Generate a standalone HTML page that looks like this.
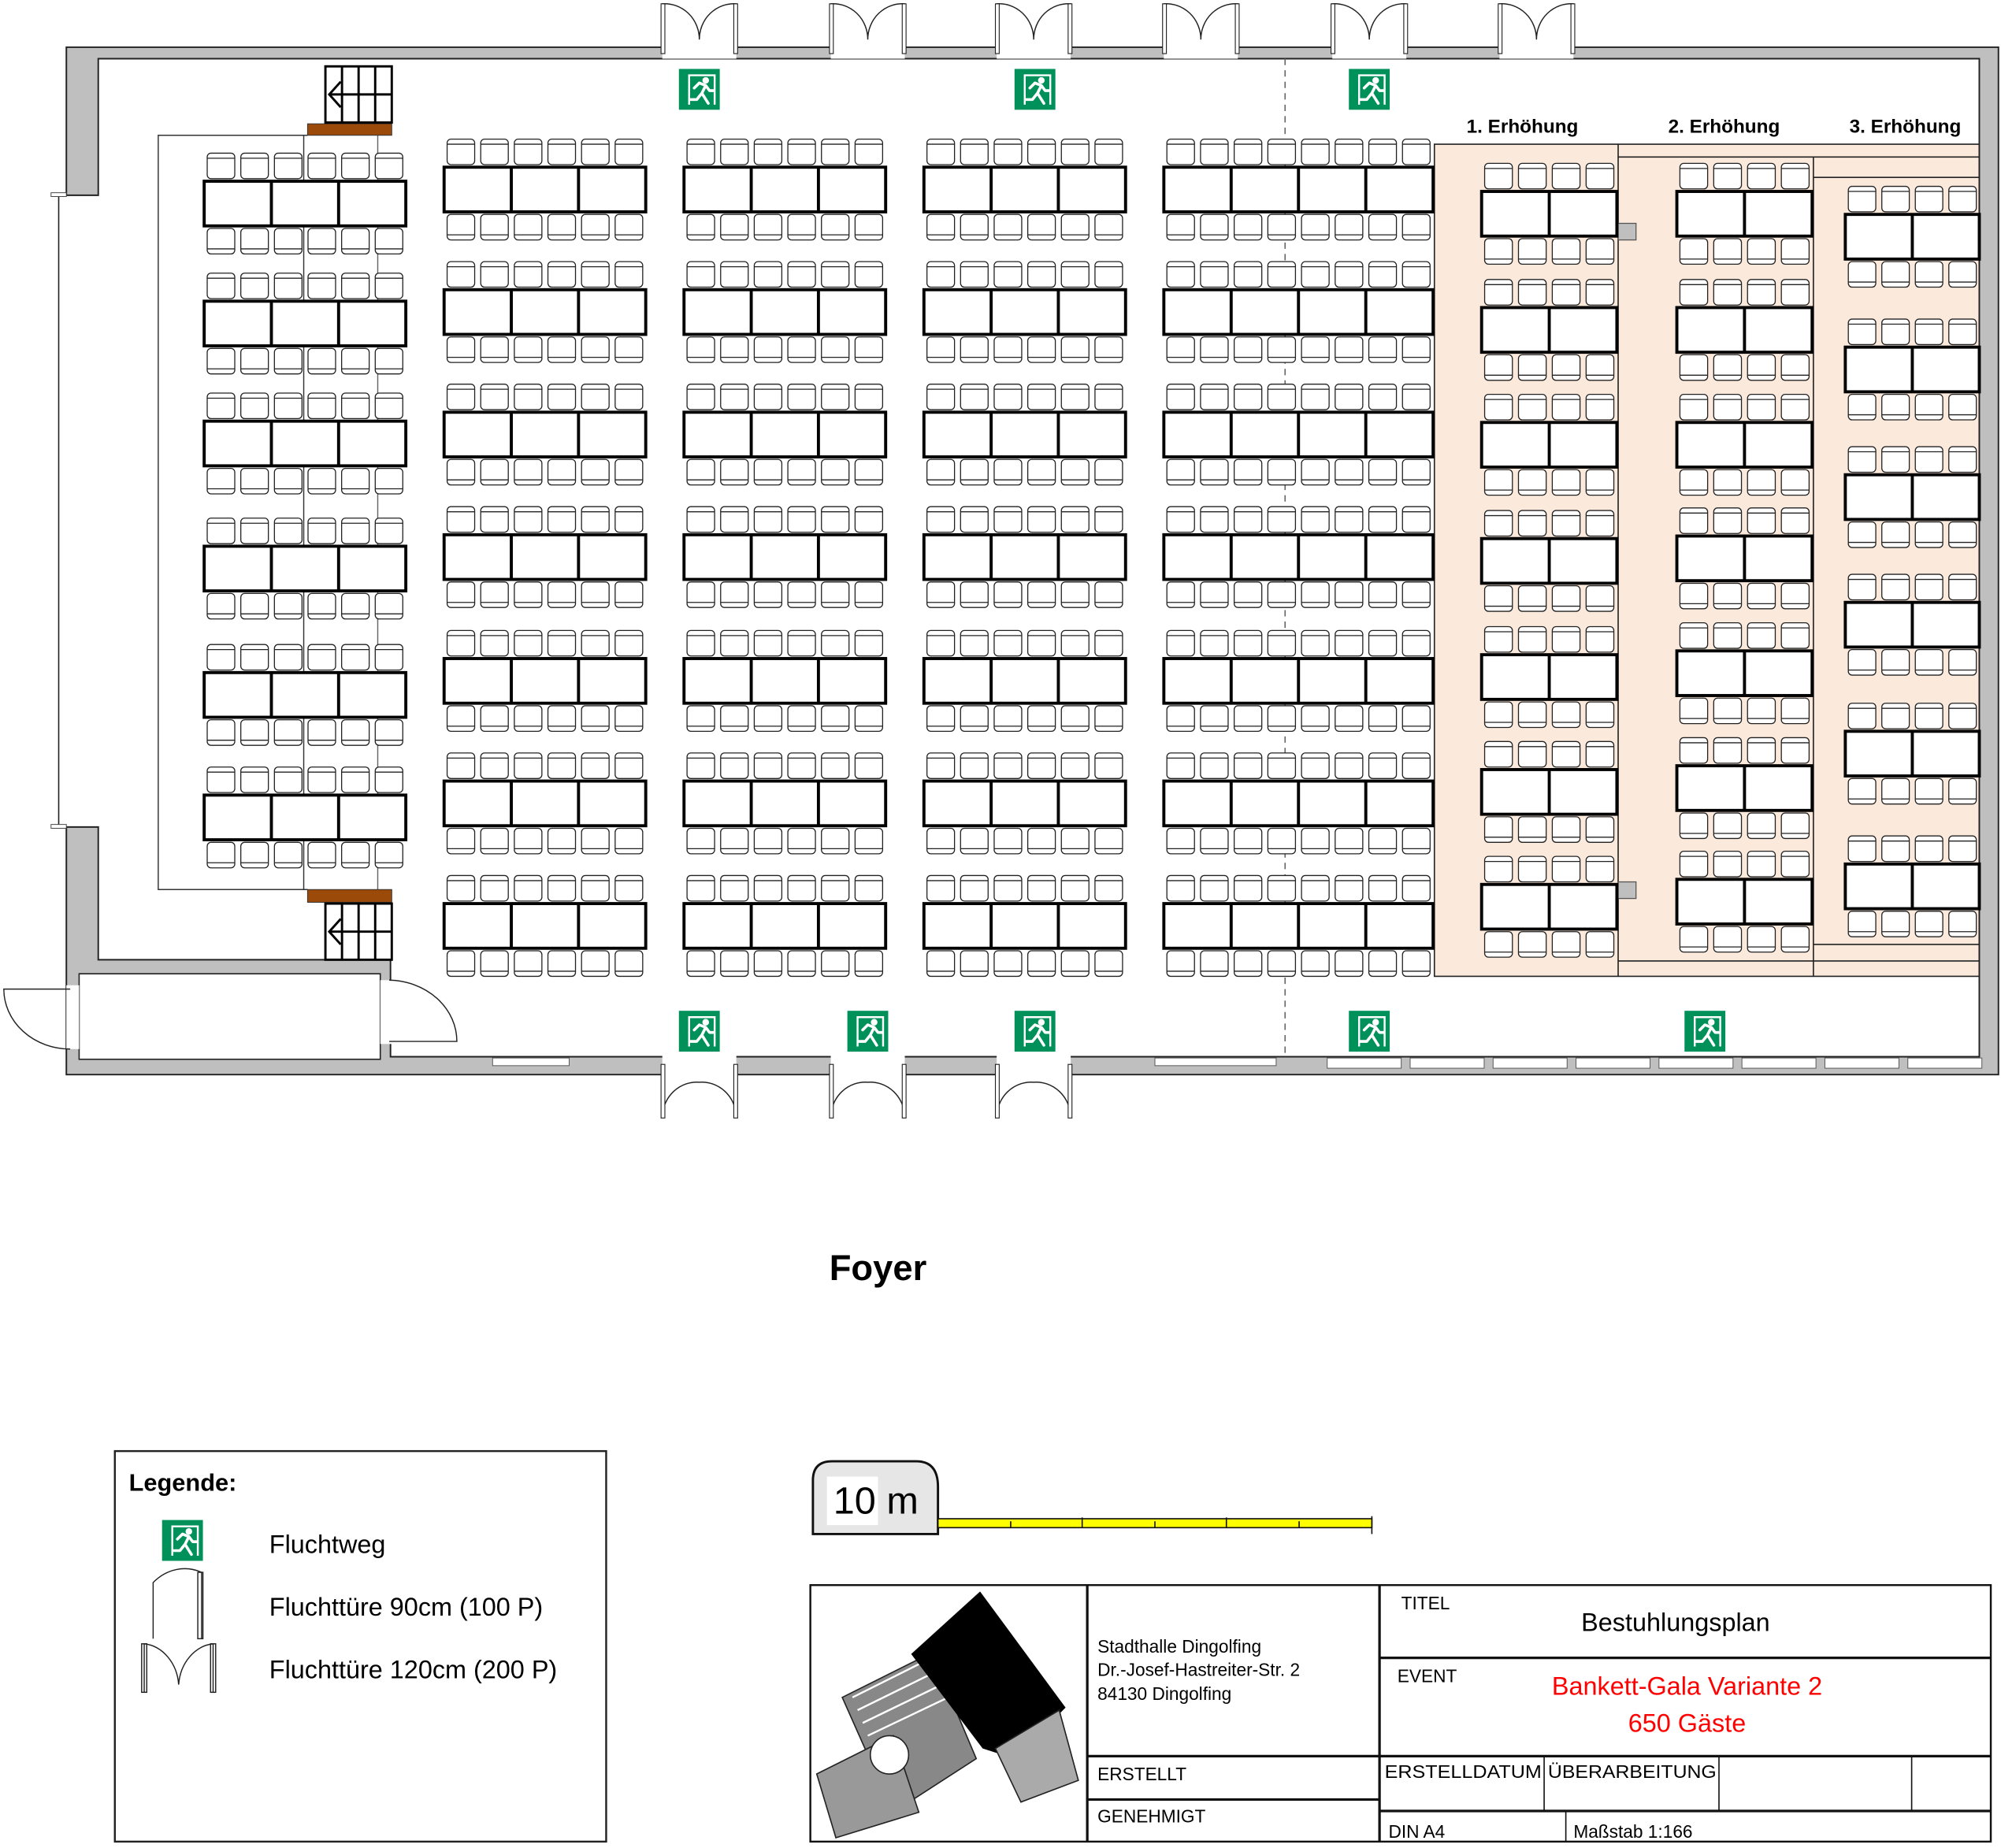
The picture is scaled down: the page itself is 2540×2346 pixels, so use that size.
<!DOCTYPE html>
<html><head><meta charset="utf-8">
<style>
html,body{margin:0;padding:0;background:#fff;}
svg{display:block;}
text{font-family:"Liberation Sans",sans-serif;}
</style></head>
<body>
<svg id="s" xmlns="http://www.w3.org/2000/svg" width="2540" height="2346" viewBox="0 0 1568 1448" preserveAspectRatio="none">
<rect x="0" y="0" width="1568" height="1448" fill="#fff"/>
<g id="plat">
<rect x="1124" y="113" width="427" height="652" fill="#fbe9dc" stroke="#222" stroke-width="1"/>
<line x1="1268" y1="113" x2="1268" y2="765" stroke="#222" stroke-width="1"/>
<line x1="1421" y1="123" x2="1421" y2="765" stroke="#222" stroke-width="1"/>
<line x1="1268" y1="123" x2="1551" y2="123" stroke="#222" stroke-width="1"/>
<line x1="1421" y1="139" x2="1551" y2="139" stroke="#222" stroke-width="1"/>
<line x1="1268" y1="753" x2="1551" y2="753" stroke="#222" stroke-width="1"/>
<line x1="1421" y1="740" x2="1551" y2="740" stroke="#222" stroke-width="1"/>
<rect x="1268" y="175" width="14" height="13" fill="#bfbfbf" stroke="#555" stroke-width="0.8"/>
<rect x="1268" y="691" width="14" height="13" fill="#bfbfbf" stroke="#555" stroke-width="0.8"/>
</g>
<path d="M52,37 H1566 V842 H52 V648 H77 V752 H306 V828 H1551 V46 H77 V153 H52 Z" fill="#bfbfbf" stroke="#222" stroke-width="1.2"/>
<rect x="62" y="763" width="236" height="67" fill="#fff" stroke="#222" stroke-width="1"/>
<line x1="46" y1="153" x2="46" y2="648" stroke="#222" stroke-width="1"/>
<rect x="40" y="151" width="12" height="3" fill="#fff" stroke="#444" stroke-width="0.6"/>
<rect x="40" y="646" width="12" height="3" fill="#fff" stroke="#444" stroke-width="0.6"/>
<line x1="1007" y1="46" x2="1007" y2="828" stroke="#666" stroke-width="1" stroke-dasharray="5,4"/>
<path d="M241,106 H124 V697 H241" fill="none" stroke="#333" stroke-width="0.9"/>
<line x1="238" y1="106" x2="238" y2="697" stroke="#333" stroke-width="0.9"/>
<line x1="296" y1="106" x2="296" y2="697" stroke="#666" stroke-width="0.9"/>
<rect x="241" y="97" width="66" height="9" fill="#9c4a0a" stroke="#333" stroke-width="0.6"/>
<rect x="241" y="697" width="66" height="10" fill="#9c4a0a" stroke="#333" stroke-width="0.6"/>
<g id="dyn"></g>
<g fill="#fff" stroke="#000" stroke-width="1.8">
<rect x="255" y="52" width="52" height="44"/>
<line x1="268" y1="52" x2="268" y2="96"/><line x1="281" y1="52" x2="281" y2="96"/><line x1="294" y1="52" x2="294" y2="96"/>
<line x1="258" y1="74" x2="307" y2="74"/>
<polyline points="267,64 258,74 267,84" fill="none"/>
<rect x="255" y="708" width="52" height="44"/>
<line x1="268" y1="708" x2="268" y2="752"/><line x1="281" y1="708" x2="281" y2="752"/><line x1="294" y1="708" x2="294" y2="752"/>
<line x1="258" y1="730" x2="307" y2="730"/>
<polyline points="267,720 258,730 267,740" fill="none"/>
</g>
<g fill="none" stroke="#222" stroke-width="0.9">
<rect x="52" y="772" width="10" height="50" fill="#fff" stroke="none"/>
<path d="M55,775 H3 A52,47 0 0 0 55,822"/>
<rect x="298" y="768" width="10" height="50" fill="#fff" stroke="none"/>
<path d="M305,816 H358 A54,48 0 0 0 305,768"/>
</g>
<text x="1193" y="104" font-size="15" font-weight="bold" text-anchor="middle">1. Erhöhung</text>
<text x="1351" y="104" font-size="15" font-weight="bold" text-anchor="middle">2. Erhöhung</text>
<text x="1493" y="104" font-size="15" font-weight="bold" text-anchor="middle">3. Erhöhung</text>
<text x="688" y="1003" font-size="28" font-weight="bold" text-anchor="middle">Foyer</text>
<rect x="90" y="1137" width="385" height="306" fill="#fff" stroke="#222" stroke-width="1.5"/>
<text x="101" y="1168" font-size="19" font-weight="bold">Legende:</text>
<text x="211" y="1217" font-size="20">Fluchtweg</text>
<text x="211" y="1266" font-size="20">Fluchttüre 90cm (100 P)</text>
<text x="211" y="1315" font-size="20">Fluchttüre 120cm (200 P)</text>
<g fill="none" stroke="#222" stroke-width="0.9">
<path d="M120,1284 V1240 A38,45 0 0 1 158,1232 V1284"/>
<rect x="155" y="1232" width="4" height="52"/>
<path d="M113,1326 V1288 A30,35 0 0 1 140,1320 A30,35 0 0 1 167,1288 V1326"/>
<rect x="111" y="1288" width="4" height="38"/><rect x="165" y="1288" width="4" height="38"/>
</g>
<path d="M637,1202 V1160 Q637,1145 652,1145 H718 Q735,1145 735,1165 V1202 Z" fill="#e6e6e6" stroke="#111" stroke-width="1.8"/>
<rect x="648" y="1157" width="40" height="38" fill="#fff"/>
<text x="653" y="1186" font-size="30">10 m</text>
<rect x="735" y="1190" width="340" height="7" fill="#ffff00" stroke="#111" stroke-width="1"/>
<g stroke="#111" stroke-width="1"><line x1="792" y1="1192" x2="792" y2="1197"/><line x1="848" y1="1189" x2="848" y2="1197"/><line x1="905" y1="1192" x2="905" y2="1197"/><line x1="961" y1="1189" x2="961" y2="1197"/><line x1="1018" y1="1192" x2="1018" y2="1197"/><line x1="1075" y1="1188" x2="1075" y2="1202"/></g>
<g fill="none" stroke="#111" stroke-width="2">
<rect x="635" y="1242" width="925" height="201" stroke-width="1.5"/>
<line x1="852" y1="1242" x2="852" y2="1443"/>
<line x1="1081" y1="1242" x2="1081" y2="1443"/>
<line x1="1081" y1="1299" x2="1560" y2="1299"/>
<line x1="852" y1="1376" x2="1560" y2="1376"/>
<line x1="852" y1="1410" x2="1081" y2="1410"/>
<line x1="1081" y1="1419" x2="1560" y2="1419"/>
<line x1="1210" y1="1376" x2="1210" y2="1419" stroke-width="1"/>
<line x1="1347" y1="1376" x2="1347" y2="1419" stroke-width="1"/>
<line x1="1498" y1="1376" x2="1498" y2="1419" stroke-width="1"/>
<line x1="1227" y1="1419" x2="1227" y2="1443" stroke-width="1"/>
</g>
<text x="860" y="1295" font-size="14">Stadthalle Dingolfing</text>
<text x="860" y="1313" font-size="14">Dr.-Josef-Hastreiter-Str. 2</text>
<text x="860" y="1332" font-size="14">84130 Dingolfing</text>
<text x="860" y="1395" font-size="14">ERSTELLT</text>
<text x="860" y="1428" font-size="14">GENEHMIGT</text>
<text x="1098" y="1261" font-size="14">TITEL</text>
<text x="1313" y="1278" font-size="20" text-anchor="middle">Bestuhlungsplan</text>
<text x="1095" y="1318" font-size="14">EVENT</text>
<text x="1322" y="1328" font-size="20" fill="#ff0000" text-anchor="middle">Bankett-Gala Variante 2</text>
<text x="1322" y="1357" font-size="20" fill="#ff0000" text-anchor="middle">650 Gäste</text>
<text x="1085" y="1393" font-size="14" textLength="123" lengthAdjust="spacingAndGlyphs">ERSTELLDATUM</text>
<text x="1213" y="1393" font-size="14" textLength="132" lengthAdjust="spacingAndGlyphs">ÜBERARBEITUNG</text>
<text x="1088" y="1440" font-size="14">DIN A4</text>
<text x="1233" y="1440" font-size="14">Maßstab 1:166</text>
<g>
<path d="M660,1330 L730,1295 L765,1378 L700,1420 Z" fill="#888" stroke="#222" stroke-width="1"/>
<path d="M640,1390 L700,1360 L720,1420 L655,1440 Z" fill="#999" stroke="#222" stroke-width="1"/>
<path d="M668,1330 L728,1300 M672,1340 L733,1310 M676,1350 L738,1320 M680,1360 L743,1330" stroke="#fff" stroke-width="1.5"/>
<circle cx="697" cy="1375" r="15" fill="#fff" stroke="#222" stroke-width="1"/>
<path d="M714,1296 L768,1247 L835,1338 L795,1378 L770,1370 Z" fill="#000"/>
<path d="M780,1370 L830,1340 L845,1395 L800,1412 Z" fill="#aaa" stroke="#222" stroke-width="1"/>
</g>
</svg>
<script>
(function(){
var NS="http://www.w3.org/2000/svg",g=document.getElementById("dyn"),s=document.getElementById("s");
function el(t,a,p){var e=document.createElementNS(NS,t);for(var k in a)e.setAttribute(k,a[k]);(p||g).appendChild(e);return e;}
function chair(x,y,w,h,top){
 el("rect",{x:x,y:y,width:w,height:h,rx:3,fill:"#fff",stroke:"#222","stroke-width":0.8});
 var ly=top?y+4:y+h-4; el("line",{x1:x,y1:ly,x2:x+w,y2:ly,stroke:"#222","stroke-width":0.8});
}
function group(x,w,n,ty){
 var p=w/(n*2),cw=p*0.82,off=(p-cw)/2;
 for(var i=0;i<n*2;i++){chair(x+i*p+off,ty-22,cw,20,true);chair(x+i*p+off,ty+37,cw,20,false);}
 el("rect",{x:x,y:ty,width:w,height:35,fill:"#fff",stroke:"#000","stroke-width":2.4});
 for(var j=1;j<n;j++)el("line",{x1:x+j*w/n,y1:ty,x2:x+j*w/n,y2:ty+35,stroke:"#000","stroke-width":2.4});
}
[142,236,330,428,527,623].forEach(function(y){group(160,158,3,y);});
[131,227,323,419,516,612,708].forEach(function(y){group(348,158,3,y);group(536,158,3,y);group(724,158,3,y);group(912,211,4,y);});
[150,241,331,422,513,603,693].forEach(function(y){group(1161,106,2,y);});
[150,241,331,420,510,600,689].forEach(function(y){group(1314,106,2,y);});
[168,272,372,472,573,677].forEach(function(y){group(1446,105,2,y);});
function ddoor(c,top){
 var L=c-29,R=c+29;
 if(top){
  el("rect",{x:L,y:36,width:58,height:10,fill:"#fff"},s);
  el("path",{d:"M"+L+",42 V3 A27,28 0 0 1 "+c+",31 A27,28 0 0 1 "+R+",3 V42",fill:"none",stroke:"#222","stroke-width":0.9},s);
  el("rect",{x:L-1,y:3,width:3,height:39,fill:"#fff",stroke:"#222","stroke-width":0.7},s);
  el("rect",{x:R-2,y:3,width:3,height:39,fill:"#fff",stroke:"#222","stroke-width":0.7},s);
 } else {
  el("rect",{x:L,y:827,width:58,height:16,fill:"#fff"},s);
  el("path",{d:"M"+L+",834 V876 A27,28 0 0 1 "+c+",848 A27,28 0 0 1 "+R+",876 V834",fill:"none",stroke:"#222","stroke-width":0.9},s);
  el("rect",{x:L-1,y:834,width:3,height:42,fill:"#fff",stroke:"#222","stroke-width":0.7},s);
  el("rect",{x:R-2,y:834,width:3,height:42,fill:"#fff",stroke:"#222","stroke-width":0.7},s);
 }
}
[548,680,810,941,1073,1204].forEach(function(c){ddoor(c,true);});
[548,680,810].forEach(function(c){ddoor(c,false);});
[1040,1105,1170,1235,1300,1365,1430,1495].forEach(function(x){
 el("rect",{x:x,y:829,width:58,height:8,fill:"#fff",stroke:"#555","stroke-width":0.6},s);
});
el("rect",{x:386,y:829,width:60,height:6,fill:"#fff",stroke:"#555","stroke-width":0.6},s);
el("rect",{x:905,y:829,width:95,height:6,fill:"#fff",stroke:"#555","stroke-width":0.6},s);
function exitS(cx,cy){
 var x=cx-16,y=cy-16;
 el("rect",{x:x,y:y,width:32,height:32,fill:"#00915a"},s);
 el("path",{d:"M"+(x+8)+","+(y+28)+" V"+(y+5)+" H"+(x+28)+" V"+(y+28),fill:"none",stroke:"#fff","stroke-width":1.5},s);
 el("circle",{cx:x+21,cy:y+9,r:2.6,fill:"#fff"},s);
 el("path",{d:"M"+(x+12)+","+(y+15)+" L"+(x+16)+","+(y+11)+" L"+(x+21)+","+(y+13)+" L"+(x+18)+","+(y+19)+" L"+(x+23)+","+(y+27)+" M"+(x+18)+","+(y+19)+" L"+(x+14)+","+(y+24)+" L"+(x+9)+","+(y+24)+" M"+(x+21)+","+(y+13)+" L"+(x+24)+","+(y+17)+" L"+(x+27)+","+(y+17),fill:"none",stroke:"#fff","stroke-width":2.2,"stroke-linecap":"round","stroke-linejoin":"round"},s);
}
[[548,70],[811,70],[1073,70],[548,808],[680,808],[811,808],[1073,808],[1336,808],[143,1207]].forEach(function(p){exitS(p[0],p[1]);});
})();
</script>
</body></html>
